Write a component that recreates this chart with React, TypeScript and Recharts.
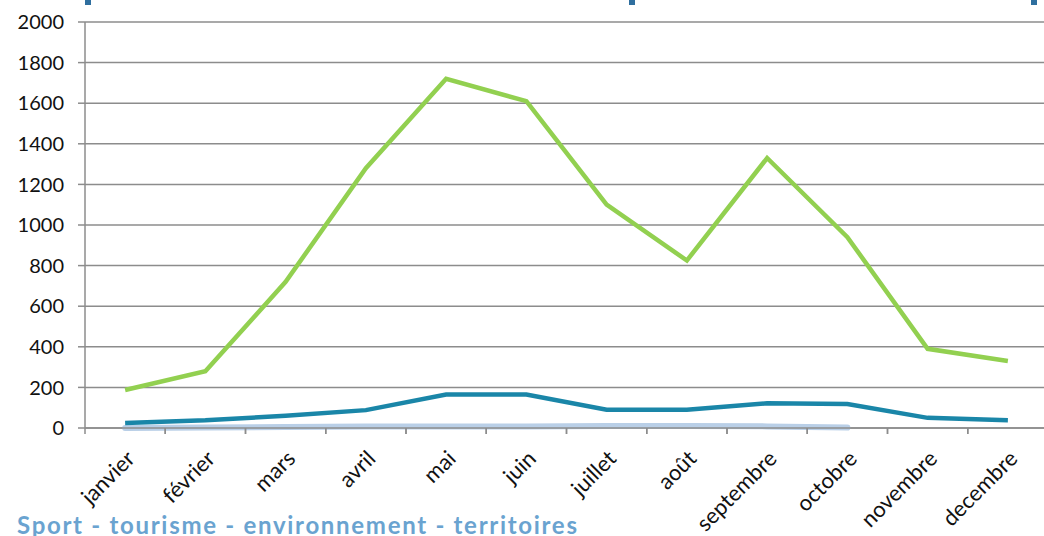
import React from "react";
import { LineChart, Line, XAxis, YAxis, CartesianGrid } from "recharts";

const months = ["janvier", "février", "mars", "avril", "mai", "juin", "juillet", "août", "septembre", "octobre", "novembre", "decembre"];
const greenSeries = [187, 280, 720, 1280, 1720, 1610, 1100, 825, 1330, 940, 390, 330];
const tealSeries = [25, 38, 60, 88, 165, 165, 90, 90, 122, 118, 50, 38];
const lightSeries: (number | null)[] = [0, 2, 5, 8, 8, 8, 10, 10, 8, 2, null, null];
const yTicks = [0, 200, 400, 600, 800, 1000, 1200, 1400, 1600, 1800, 2000];

const data = months.map((m, i) => ({
  month: m,
  green: greenSeries[i],
  teal: tealSeries[i],
  light: lightSeries[i],
}));

const CHART_W = 1060;
const MARGIN_L = 8;
const MARGIN_R = 12;
const YAXIS_W = 77;
const PLOT_W = CHART_W - MARGIN_L - MARGIN_R - YAXIS_W;
const HALF_BAND = PLOT_W / months.length / 2;
const FONT = "Lato, 'Open Sans', sans-serif";
const AXIS_Y = 428;

const XTick = (props: any) => {
  const { x, payload } = props;
  const ax = x + 11;
  const ay = AXIS_Y + 32;
  return (
    <g>
      <line x1={x - HALF_BAND} y1={AXIS_Y} x2={x - HALF_BAND} y2={AXIS_Y + 6} stroke="#8c8c8c" strokeWidth={1.5} />
      <line x1={x + HALF_BAND} y1={AXIS_Y} x2={x + HALF_BAND} y2={AXIS_Y + 6} stroke="#8c8c8c" strokeWidth={1.5} />
      <text
        x={ax}
        y={ay}
        textAnchor="end"
        fontSize={22}
        fontFamily={FONT}
        fill="#111"
        transform={`rotate(-45, ${ax}, ${ay})`}
      >
        {payload.value}
      </text>
    </g>
  );
};

export default function App() {
  return (
    <div style={{ position: "absolute", left: 0, top: 0, width: 1044, height: 536, overflow: "hidden", background: "#fff" }}>
      <div style={{ position: "absolute", left: 85, top: 0, width: 6, height: 5, background: "#2f6f9f" }} />
      <div style={{ position: "absolute", left: 629, top: 0, width: 6, height: 5, background: "#2f6f9f" }} />
      <div style={{ position: "absolute", left: 1031, top: 0, width: 6, height: 5, background: "#2f6f9f" }} />
      <LineChart
        width={CHART_W}
        height={536}
        data={data}
        margin={{ top: 22, right: MARGIN_R, left: MARGIN_L, bottom: 8 }}
      >
        <CartesianGrid vertical={false} stroke="#8c8c8c" strokeWidth={1.5} />
        <XAxis
          dataKey="month"
          scale="band"
          interval={0}
          height={100}
          tickLine={false}
          axisLine={{ stroke: "#8c8c8c", strokeWidth: 1.5 }}
          tick={<XTick />}
        />
        <YAxis
          domain={[0, 2000]}
          ticks={yTicks}
          width={YAXIS_W}
          tickSize={7}
          tickMargin={14}
          tickLine={{ stroke: "#8c8c8c", strokeWidth: 1.5 }}
          axisLine={{ stroke: "#8c8c8c", strokeWidth: 1.5 }}
          tick={{ fontSize: 20, fontFamily: FONT, fill: "#111" }}
        />
        <Line dataKey="light" stroke="#b9cfe7" strokeWidth={6} strokeLinecap="round" dot={false} isAnimationActive={false} connectNulls={false} />
        <Line dataKey="teal" stroke="#1a86a8" strokeWidth={4.5} dot={false} isAnimationActive={false} />
        <Line dataKey="green" stroke="#92d050" strokeWidth={4.5} dot={false} isAnimationActive={false} />
      </LineChart>
      <div
        style={{
          position: "absolute",
          left: 17,
          top: 513,
          fontFamily: FONT,
          fontWeight: 700,
          fontSize: 24,
          letterSpacing: 1.7,
          color: "#6aa3d0",
          whiteSpace: "nowrap",
          lineHeight: "24px",
        }}
      >
        Sport - tourisme - environnement - territoires
      </div>
    </div>
  );
}
